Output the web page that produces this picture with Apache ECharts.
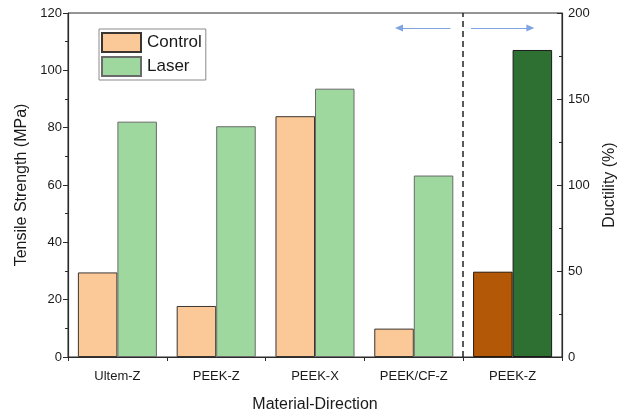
<!DOCTYPE html>
<html>
<head>
<meta charset="utf-8">
<script src="https://cdn.jsdelivr.net/npm/echarts@6/dist/echarts.min.js"></script>
<style>
html,body{margin:0;padding:0;background:#fff;}
#chart{width:623px;height:413px;}
</style>
</head>
<body>
<div id="chart"></div>
<script>
// Categories and values
const categories = ['Ultem-Z', 'PEEK-Z', 'PEEK-X', 'PEEK/CF-Z', 'PEEK-Z'];
const strengthControl = [29.5, 17.8, 84.0, 9.9, '-'];
const strengthLaser = [82.1, 80.5, 93.6, 63.3, '-'];
const ductilityControl = ['-', '-', '-', '-', 49.6];
const ductilityLaser = ['-', '-', '-', '-', 178.5];
const leftTicks = { min: 0, max: 120, interval: 20 };
const rightTicks = { min: 0, max: 200, interval: 50 };
// annotation positions (category index units / left-axis units)
const dividerAt = 3.5;
const arrowY = 114.8;
const arrowLeft = [3.37, 2.85];
const arrowRight = [3.58, 4.18];

const FONT = 'Liberation Sans, Arial, sans-serif';
const TXT = '#1a1a1a';
const AX = '#2b2b2b';

const chart = echarts.init(document.getElementById('chart'), null, { renderer: 'canvas' });
chart.setOption({
  animation: false,
  backgroundColor: '#fff',
  textStyle: { fontFamily: FONT },
  grid: { left: 68, right: 61, top: 13, bottom: 56, show: true, borderColor: AX, borderWidth: 1, backgroundColor: 'transparent', containLabel: false, outerBoundsMode: 'none' },
  legend: {
    data: ['Control', 'Laser'],
    orient: 'vertical',
    left: 99, top: 29,
    icon: 'rect',
    itemWidth: 39, itemHeight: 19, itemGap: 3,
    padding: [3, 4, 3, 2],
    borderColor: '#8a8a8a', borderWidth: 1, borderRadius: 0,
    backgroundColor: '#fff',
    textStyle: { fontSize: 17, color: TXT, fontFamily: FONT, padding: [0, 0, 0, 1] },
    selectedMode: false
  },
  xAxis: [
    {
      type: 'category', data: categories, gridIndex: 0, position: 'bottom',
      axisLine: { onZero: false, lineStyle: { color: AX, width: 1.2 } },
      axisTick: { alignWithLabel: true, length: 7, interval: 0, lineStyle: { color: AX } },
      axisLabel: { fontSize: 13, color: TXT, margin: 13, interval: 0, fontFamily: FONT },
      name: 'Material-Direction', nameLocation: 'middle', nameGap: 40,
      nameTextStyle: { fontSize: 16, color: TXT, fontFamily: FONT },
      splitLine: { show: false }
    },
    {
      type: 'category', data: categories, gridIndex: 0, position: 'bottom',
      axisLine: { show: false, onZero: false },
      axisTick: { show: true, length: 4, interval: 0, lineStyle: { color: AX } },
      axisLabel: { show: false },
      splitLine: { show: false }
    },
    {
      type: 'value', min: -0.5, max: 4.5, gridIndex: 0, show: false,
      axisLine: { onZero: false }
    }
  ],
  yAxis: [
    {
      type: 'value', min: leftTicks.min, max: leftTicks.max, interval: leftTicks.interval,
      position: 'left',
      axisLine: { show: true, onZero: false, lineStyle: { color: AX, width: 1.2 } },
      axisTick: { show: true, length: 5, lineStyle: { color: AX } },
      minorTick: { show: true, splitNumber: 2, length: 3, lineStyle: { color: AX } },
      axisLabel: { fontSize: 13, color: TXT, margin: 6, fontFamily: FONT },
      splitLine: { show: false },
      name: 'Tensile Strength (MPa)', nameLocation: 'middle', nameGap: 37,
      nameTextStyle: { fontSize: 16, color: TXT, fontFamily: FONT }
    },
    {
      type: 'value', min: rightTicks.min, max: rightTicks.max, interval: rightTicks.interval,
      position: 'right',
      axisLine: { show: true, onZero: false, lineStyle: { color: AX, width: 1.2 } },
      axisTick: { show: true, inside: true, length: 5, lineStyle: { color: AX } },
      minorTick: { show: true, splitNumber: 2, length: 3, lineStyle: { color: AX } },
      axisLabel: { fontSize: 13, color: TXT, margin: 6, fontFamily: FONT },
      splitLine: { show: false },
      name: 'Ductility (%)', nameLocation: 'middle', nameGap: 40,
      nameTextStyle: { fontSize: 16, color: TXT, fontFamily: FONT }
    }
  ],
  series: [
    {
      name: 'Control', type: 'bar', xAxisIndex: 0, yAxisIndex: 0, data: strengthControl,
      barGap: '0%', barCategoryGap: '20%',
      itemStyle: { color: '#fbc898', borderColor: '#3a3530', borderWidth: 1 }
    },
    {
      name: 'Laser', type: 'bar', xAxisIndex: 0, yAxisIndex: 0, data: strengthLaser,
      barGap: '0%', barCategoryGap: '20%',
      itemStyle: { color: '#9ed89e', borderColor: '#6a6a6a', borderWidth: 1 }
    },
    {
      name: 'Control ductility', type: 'bar', xAxisIndex: 1, yAxisIndex: 1, data: ductilityControl,
      barGap: '0%', barCategoryGap: '20%',
      itemStyle: { color: '#b35806', borderColor: '#2a1a0a', borderWidth: 1 }
    },
    {
      name: 'Laser ductility', type: 'bar', xAxisIndex: 1, yAxisIndex: 1, data: ductilityLaser,
      barGap: '0%', barCategoryGap: '20%',
      itemStyle: { color: '#2e7032', borderColor: '#1a1a1a', borderWidth: 1 }
    },
    {
      name: 'annot-divider', type: 'line', xAxisIndex: 2, yAxisIndex: 0, data: [],
      silent: true,
      markLine: {
        silent: true, symbol: ['none', 'none'], label: { show: false },
        lineStyle: { color: '#222', width: 1.5, type: [6, 4] },
        data: [{ xAxis: dividerAt }]
      }
    },
    {
      name: 'annot-arrows', type: 'line', xAxisIndex: 2, yAxisIndex: 0, data: [],
      silent: true,
      markLine: {
        silent: true, symbol: ['none', 'triangle'], symbolSize: [7, 8], label: { show: false },
        lineStyle: { color: '#7fa4e2', width: 1.2, type: 'solid' },
        data: [
          [{ coord: [arrowLeft[0], arrowY] }, { coord: [arrowLeft[1], arrowY] }],
          [{ coord: [arrowRight[0], arrowY] }, { coord: [arrowRight[1], arrowY] }]
        ]
      }
    }
  ]
});
</script>
</body>
</html>
